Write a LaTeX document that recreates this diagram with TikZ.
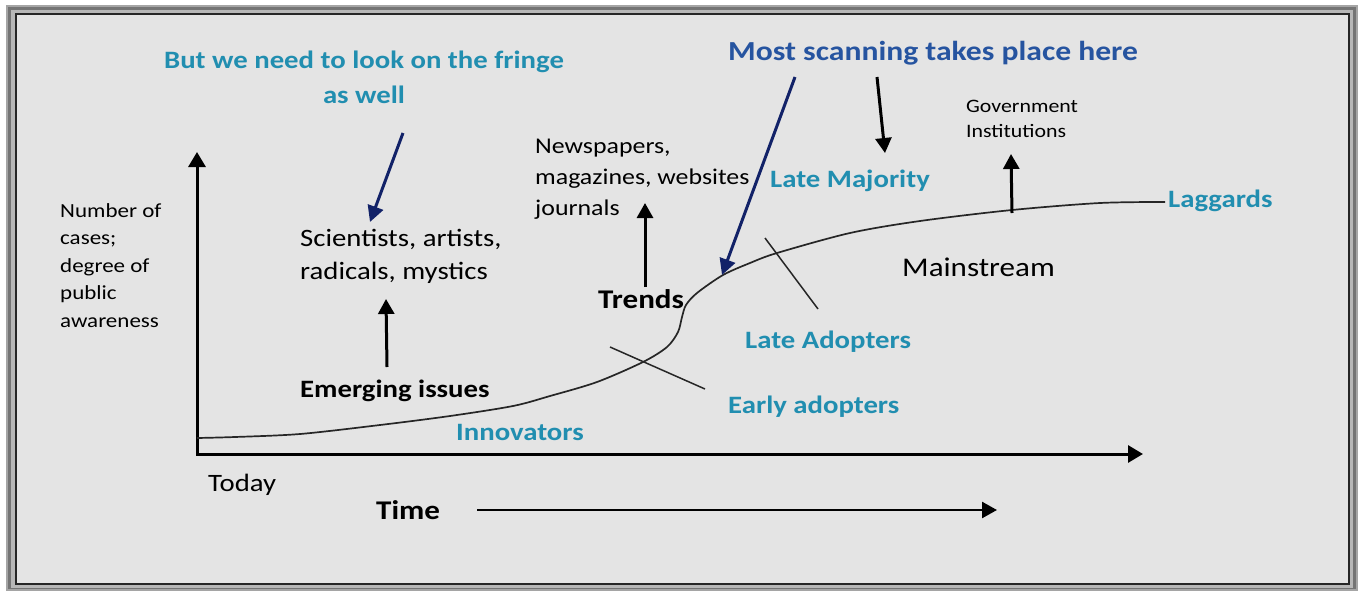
\documentclass[tikz,border=0pt]{standalone}
\usepackage{fontspec}
\setmainfont[FakeStretch=1.15]{Carlito}
\usetikzlibrary{arrows.meta}
\definecolor{tealc}{RGB}{33,142,176}
\definecolor{scanblue}{RGB}{38,84,160}
\definecolor{navyc}{RGB}{18,34,104}
\definecolor{bgc}{RGB}{228,228,228}
\definecolor{bevel}{RGB}{165,165,165}
\newcommand\stkl[1]{\begin{tabular}[t]{@{}l@{}}#1\end{tabular}}
\newcommand\stkc[1]{\begin{tabular}[t]{@{}c@{}}#1\end{tabular}}
\newcommand\fs[2]{\fontsize{#1}{#2}\selectfont}
\begin{document}
\begin{tikzpicture}[x=1pt,y=-1pt,
  lbl/.style={inner sep=0pt, anchor=base west},
  tlbl/.style={lbl, text=tealc, font=\bfseries\fs{25}{30}},
  blkarr/.style={line width=3pt, -{Triangle[width=16pt,length=15pt]}},
  navyarr/.style={draw=navyc, line width=3pt, -{Triangle[width=16pt,length=16pt]}},
  axisline/.style={line width=3pt, {Triangle[width=17pt,length=15pt]}-{Triangle[width=17pt,length=15pt]}},
  curveline/.style={line width=1.7pt, draw=black!85},
  tick/.style={line width=1.5pt, draw=black!85}]
\useasboundingbox (0,0) rectangle (1363,592);
\fill[white] (0,0) rectangle (1363,592);
\fill[bevel] (6,5) rectangle (1358,591);
\fill[bevel!70!black] (8,7) rectangle (1356,589);
\fill[bevel!80!white] (11,10) rectangle (1353,588);
\filldraw[fill=bgc, draw=black!85, line width=1.5pt] (16,14) rectangle (1349,584);

% texts
\node[lbl, anchor=base, text=tealc, font=\bfseries\fs{25}{35}] (fringe) at (364,68)
  {\stkc{But we need to look on the fringe\\as well}};
\node[lbl, text=scanblue, font=\bfseries\fs{27.5}{32}] (scan) at (728,60) {Most scanning takes place here};
\node[lbl, font=\fs{19}{25}] (gov) at (966,112) {\stkl{Government\\Institutions}};
\node[lbl, font=\fs{22.5}{31}] (news) at (535,153) {\stkl{Newspapers,\\magazines, websites\\journals}};
\node[tlbl] (latemaj) at (770,187) {Late Majority};
\node[tlbl] (lag) at (1168,207) {Laggards};
\node[lbl, font=\fs{20}{27.5}] (ylab) at (60,217) {\stkl{Number of\\cases;\\degree of\\public\\awareness}};
\node[lbl, font=\fs{25}{33}] (sci) at (300,246) {\stkl{Scientists, artists,\\radicals, mystics}};
\node[lbl, font=\fs{27}{32}] (main) at (902,276) {Mainstream};
\node[lbl, font=\bfseries\fs{27}{32}] (trends) at (598,308) {Trends};
\node[tlbl] (lateadopt) at (745,348) {Late Adopters};
\node[lbl, font=\bfseries\fs{25}{30}] (emerg) at (300,397) {Emerging issues};
\node[tlbl] (earlyadopt) at (728,413) {Early adopters};
\node[tlbl] (innov) at (456,440) {Innovators};
\node[lbl, font=\fs{25}{30}] (today) at (208,491) {Today};
\node[lbl, font=\bfseries\fs{27}{32}] (time) at (376,519) {Time};

% axes
\coordinate (ytip) at (197,152);
\coordinate (xtip) at (1143,454);
\draw[axisline] (ytip) |- (xtip);

% curve
\draw[curveline] plot[smooth, tension=0.5] coordinates {
 (197,438) (235,437) (300,434) (380,425) (450,416) (513,406) (550,396) (597,382)
 (643,362) (667,347) (678,332) (682,317) (686,305) (697,293) (723,275) (750,263)
 (777,253) (850,233) (920,221) (1012,210) (1100,203) (1165,202)};

% ticks
\coordinate (e1) at (610,347); \coordinate (e2) at (705,389);
\draw[tick] (e1) -- (e2);
\coordinate (l1) at (765,238); \coordinate (l2) at (818,309);
\draw[tick] (l1) -- (l2);

% arrows
\coordinate (fa) at (403,133); \coordinate (fb) at (370,222);
\draw[navyarr] (fa) -- (fb);
\coordinate (sa) at (795,77); \coordinate (sb) at (722,275);
\draw[navyarr] (sa) -- (sb);
\coordinate (da) at (877,77); \coordinate (db) at (885,153);
\draw[blkarr] (da) -- (db);
\coordinate (ta) at (645,287); \coordinate (tb) at (645,203);
\draw[blkarr] (ta) -- (tb);
\coordinate (ea) at (387,367); \coordinate (eb) at (386,299);
\draw[blkarr] (ea) -- (eb);
\coordinate (ga) at (1012,213); \coordinate (gb) at (1011,154);
\draw[blkarr] (ga) -- (gb);
\coordinate (tma) at (477,510); \coordinate (tmb) at (997,510);
\draw[line width=2.5pt, -{Triangle[width=16pt,length=15pt]}] (tma) -- (tmb);
\end{tikzpicture}
\end{document}
